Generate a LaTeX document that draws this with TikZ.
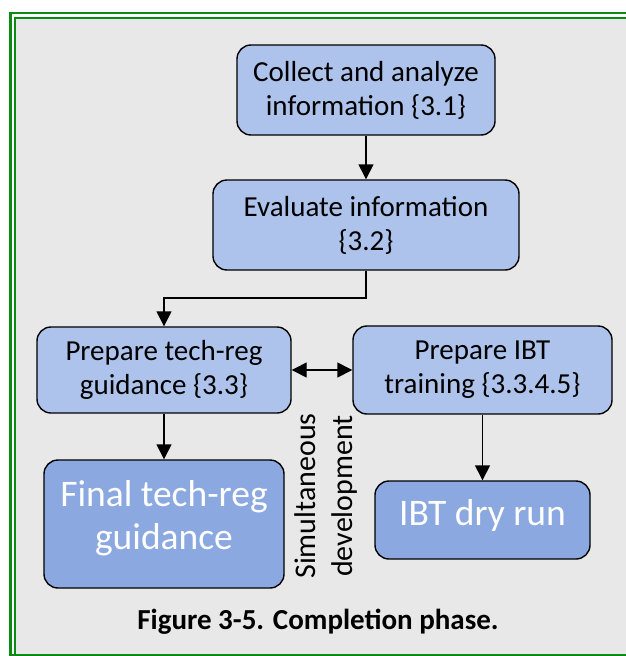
\documentclass[tikz,border=0pt]{standalone}
\usepackage{fontspec}
\setmainfont{Carlito}
\usetikzlibrary{arrows.meta}
\definecolor{bgc}{HTML}{E8E8E8}
\definecolor{frame}{HTML}{0B8A14}
\definecolor{light}{HTML}{AEC3EB}
\definecolor{dark}{HTML}{8BA9E0}
\tikzset{
  box/.style={draw=black, line width=1.4pt, rounded corners=14pt, fill=light, align=center,
    inner sep=0pt, font=\fontsize{29}{34}\selectfont},
  bigbox/.style={box, fill=dark},
  bigtext/.style={align=center, inner sep=0pt, text=white, font=\fontsize{37.5}{43}\selectfont},
  arr/.style={line width=1.4pt, -{Triangle[length=15pt,width=15pt]}},
  darr/.style={line width=1.4pt, {Triangle[length=15pt,width=15pt]}-{Triangle[length=15pt,width=15pt]}},
  note/.style={align=center, font=\fontsize{30}{37}\selectfont},
  caption/.style={font=\bfseries\fontsize{29}{32}\selectfont}
}
\begin{document}
\begin{tikzpicture}[x=1pt,y=-1pt]
\useasboundingbox (0,0) rectangle (626,656);
\begin{scope}
\clip (0,0) rectangle (626,656);
\fill[white] (9,12) rectangle (640,670);
\fill[bgc] (15,18) rectangle (640,670);
\draw[frame, line width=2.4pt] (10.5,700) -- (10.5,13) -- (640,13);
\draw[frame, line width=2.4pt] (15,700) -- (15,18) -- (640,18);
\draw[frame, line width=2.4pt] (9,655) -- (640,655);
\end{scope}

\node[box, minimum width=258pt, minimum height=90pt] (b1) at (366,90) {Collect and analyze\\information \{3.1\}};
\node[box, minimum width=306pt, minimum height=90pt] (b2) at (366,225) {Evaluate information\\\{3.2\}};
\node[box, minimum width=254pt, minimum height=86pt] (b3) at (164,370) {Prepare tech-reg\\guidance \{3.3\}};
\node[box, minimum width=259pt, minimum height=88pt] (b4) at (482.5,370) {Prepare IBT\\training \{3.3.4.5\}};
\node[bigbox, minimum width=240pt, minimum height=128pt] (b5) at (164,524) {};
\node[bigtext] (t5) at ([yshift=6pt]b5.center) {Final tech-reg\\guidance};
\node[bigbox, minimum width=215pt, minimum height=78pt] (b6) at (482.5,520) {};
\node[bigtext] (t6) at ([yshift=5pt]b6.center) {IBT dry run};

\coordinate (k1) at (366,298);
\draw[arr] (b1) -- (b2);
\draw[arr] (b2.south) -- (k1) -| (b3.north);
\draw[arr] (b3) -- (b5);
\draw[arr] (b4) -- (b6);
\draw[darr] (b3.east) -- (b4.west);

\node[note, rotate=90] (sim) at (326,496) {Simultaneous\\development};
\node[caption] (cap) at (318,622) {Figure 3-5. Completion phase.};
\end{tikzpicture}
\end{document}
